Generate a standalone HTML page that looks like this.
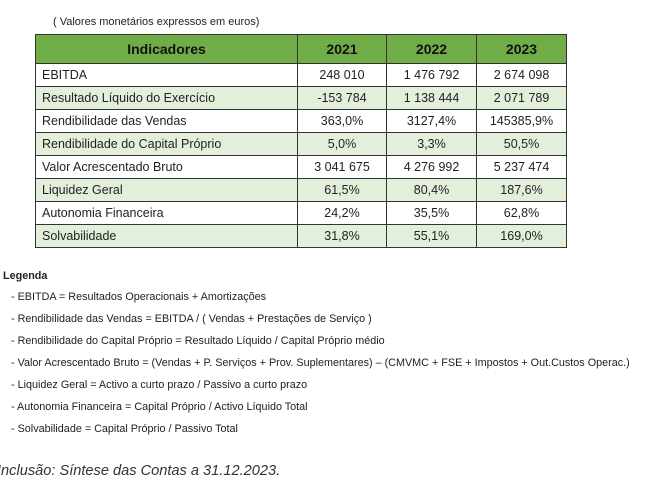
<!DOCTYPE html>
<html><head><meta charset="utf-8"><style>
body{margin:0;width:672px;height:492px;background:#fff;font-family:"Liberation Sans",Arial,sans-serif;color:#222;position:relative;overflow:hidden}
.cap{position:absolute;left:53px;top:16px;font-size:11px}
table{position:absolute;left:35px;top:34px;border-collapse:collapse;font-size:12.5px}
td,th{border:1px solid #333;padding:0;height:22px}
th{background:#70ad47;font-size:14px;height:28px;color:#111}
td.n{text-align:center}
td.l{padding-left:6px}
tr.g td{background:#e2efda}
.leg{position:absolute;left:0;top:270px;font-size:10.8px}
.leg b{display:block;margin-left:3px;margin-bottom:9px}
.leg div{margin-left:11px;height:22px}
.inc{position:absolute;left:-3px;top:463px;font-size:14.6px;font-style:italic;color:#333}
</style></head><body>
<div class="cap">( Valores monetários expressos em euros)</div>
<table>
<tr><th style="width:261px">Indicadores</th><th style="width:88px">2021</th><th style="width:89px">2022</th><th style="width:89px">2023</th></tr>
<tr><td class="l">EBITDA</td><td class="n">248 010</td><td class="n">1 476 792</td><td class="n">2 674 098</td></tr>
<tr class="g"><td class="l">Resultado Líquido do Exercício</td><td class="n">-153 784</td><td class="n">1 138 444</td><td class="n">2 071 789</td></tr>
<tr><td class="l">Rendibilidade das Vendas</td><td class="n">363,0%</td><td class="n">3127,4%</td><td class="n">145385,9%</td></tr>
<tr class="g"><td class="l">Rendibilidade do Capital Próprio</td><td class="n">5,0%</td><td class="n">3,3%</td><td class="n">50,5%</td></tr>
<tr><td class="l">Valor Acrescentado Bruto</td><td class="n">3 041 675</td><td class="n">4 276 992</td><td class="n">5 237 474</td></tr>
<tr class="g"><td class="l">Liquidez Geral</td><td class="n">61,5%</td><td class="n">80,4%</td><td class="n">187,6%</td></tr>
<tr><td class="l">Autonomia Financeira</td><td class="n">24,2%</td><td class="n">35,5%</td><td class="n">62,8%</td></tr>
<tr class="g"><td class="l">Solvabilidade</td><td class="n">31,8%</td><td class="n">55,1%</td><td class="n">169,0%</td></tr>
</table>
<div class="leg"><b>Legenda</b>
<div>- EBITDA = Resultados Operacionais + Amortizações</div>
<div>- Rendibilidade das Vendas = EBITDA / ( Vendas + Prestações de Serviço )</div>
<div>- Rendibilidade do Capital Próprio = Resultado Líquido / Capital Próprio médio</div>
<div>- Valor Acrescentado Bruto = (Vendas + P. Serviços + Prov. Suplementares) – (CMVMC + FSE + Impostos + Out.Custos Operac.)</div>
<div>- Liquidez Geral = Activo a curto prazo / Passivo a curto prazo</div>
<div>- Autonomia Financeira = Capital Próprio / Activo Líquido Total</div>
<div>- Solvabilidade = Capital Próprio / Passivo Total</div>
</div>
<div class="inc">Inclusão: Síntese das Contas a 31.12.2023.</div>
</body></html>
